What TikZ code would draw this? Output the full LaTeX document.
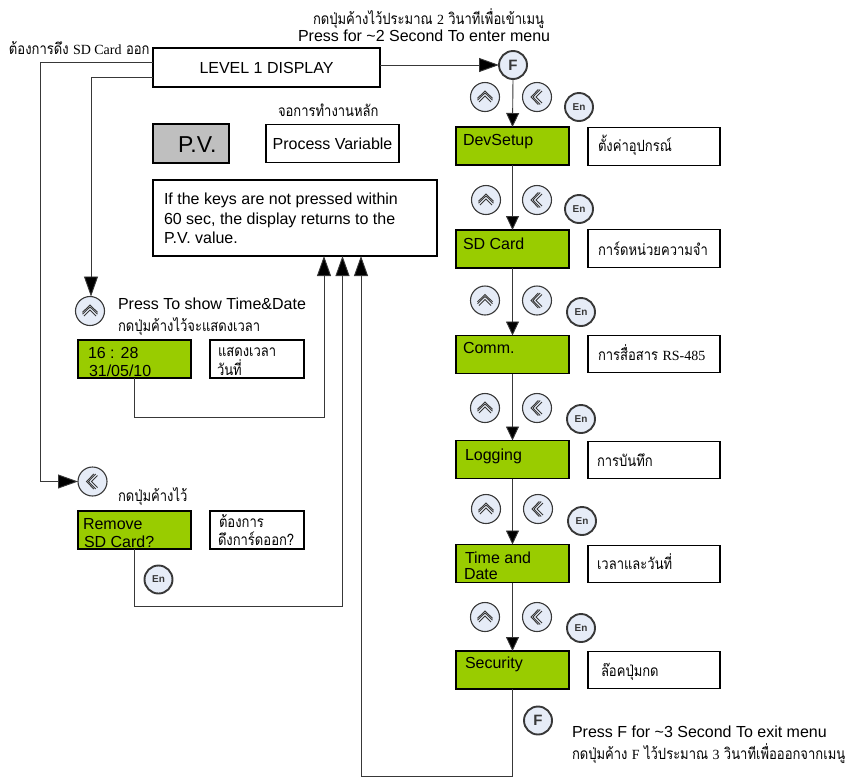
\documentclass[tikz,border=0pt]{standalone}
\usepackage{fontspec}
\usetikzlibrary{arrows.meta}
\setmainfont{Liberation Sans}
\newfontfamily\thaif[Script=Thai,FakeStretch=0.84]{Loma}
\newfontfamily\serf{Liberation Serif}
\definecolor{lcd}{HTML}{99CC00}
\definecolor{btnfill}{HTML}{E6ECF7}
\definecolor{ink}{HTML}{383838}
\newcommand{\entx}[1]{\fontsize{16}{19}\selectfont #1}
\newcommand{\thtx}[1]{\fontsize{15.5}{18}\selectfont\thaif #1}
\newcommand{\lttx}[1]{{\serf\fontsize{14}{16}\selectfont #1}}
\tikzset{
  x=1pt,y=-1pt,
  boxbase/.style={draw=black,line width=1.3pt,inner sep=0pt,outer sep=0pt},
  plainbox/.style={boxbase,fill=white},
  lcdbox/.style={boxbase,fill=lcd,minimum width=113,minimum height=38},
  notebox/.style={boxbase,fill=white,minimum width=132,minimum height=37.5},
  smallnote/.style={boxbase,fill=white,minimum width=94,minimum height=38},
  txt/.style={anchor=base west,inner sep=0pt,outer sep=0pt},
  btn/.style={circle,draw=ink,fill=btnfill,line width=1.1pt,minimum size=29,inner sep=0pt,outer sep=0pt},
  btnbold/.style={btn,line width=1.9pt,minimum size=28},
  chev/.style={draw=ink,line width=.9pt,line join=miter},
  wire/.style={draw=ink,line width=.9pt},
  tipdown/.style={-{Triangle[length=14,width=13,fill=black]}},
  tipbig/.style={-{Triangle[length=20,width=14,fill=black]}},
}
\newcommand{\upbtn}[2]{%
  \node[btn] (#1) at (#2) {};
  \draw[chev] ([shift={(-7.5,1.3)}]#1.center) -- ++(7.5,-7.3) -- ++(7.5,7.3);
  \draw[chev] ([shift={(-7.5,3.2)}]#1.center) -- ++(7.5,-7.3) -- ++(7.5,7.3);
  \draw[chev] ([shift={(-6,5)}]#1.center) -- ++(6,-6) -- ++(6,6);
}
\newcommand{\backbtn}[2]{%
  \node[btn] (#1) at (#2) {};
  \draw[chev] ([shift={(1.3,-7.5)}]#1.center) -- ++(-7.3,7.5) -- ++(7.3,7.5);
  \draw[chev] ([shift={(3.2,-7.5)}]#1.center) -- ++(-7.3,7.5) -- ++(7.3,7.5);
  \draw[chev] ([shift={(5,-6)}]#1.center) -- ++(-6,6) -- ++(6,6);
}
\newcommand{\enbtn}[2]{\node[btnbold,text=ink,font=\bfseries\fontsize{10}{12}\selectfont] (#1) at (#2) {En};}
\newcommand{\fbtn}[2]{\node[btnbold,text=ink,font=\bfseries\fontsize{15}{17}\selectfont] (#1) at (#2) {F};}
\begin{document}
\begin{tikzpicture}
\useasboundingbox (0,0) rectangle (852,777);

% top texts
\node[txt] (t1) at (313,24) {\thtx{กดปุ่มค้างไว้ประมาณ \lttx{2} วินาทีเพื่อเข้าเมนู}};
\node[txt] (t2) at (298,41) {\entx{Press for \textasciitilde2 Second To enter menu}};
\node[txt] (t3) at (9,54) {\thtx{ต้องการดึง \lttx{SD Card} ออก}};

% main column
\node[plainbox,minimum width=227,minimum height=39] (level) at (266.5,67.5) {\raisebox{-1.5pt}{\entx{LEVEL 1 DISPLAY}}};
\node[txt] (t4) at (278,116) {\thtx{จอการทำงานหลัก}};
\node[boxbase,fill=black!25,minimum width=76,minimum height=39] (pv) at (191,143.5) {};
\node[txt] (pvt) at (178,152) {\fontsize{23}{26}\selectfont P.V.};
\node[plainbox,minimum width=133,minimum height=38] (proc) at (332.5,143.5) {\raisebox{-2pt}{\entx{Process Variable}}};
\node[plainbox,minimum width=284,minimum height=76] (info) at (295,218) {};
\node[txt] (i1) at (164,204) {\entx{If the keys are not pressed within}};
\node[txt] (i2) at (164,224) {\entx{60 sec, the display returns to the}};
\node[txt] (i3) at (164,243) {\entx{P.V. value.}};

% time branch
\upbtn{upA}{90,311}
\node[txt] (t5) at (118,309.5) {\entx{Press To show Time\&Date}};
\node[txt] (t6) at (118,331) {\thtx{กดปุ่มค้างไว้จะแสดงเวลา}};
\node[lcdbox] (clock) at (134.5,359) {};
\node[txt] (c1) at (88,358) {\entx{16 : 28}};
\node[txt] (c2) at (89,376) {\entx{31/05/10}};
\node[smallnote] (clockn) at (257,359) {};
\node[txt] (c3) at (218,356.5) {\thtx{แสดงเวลา}};
\node[txt] (c4) at (217,375) {\thtx{วันที่}};

% remove branch
\backbtn{backA}{92.5,481.5}
\node[txt] (t7) at (118,501.5) {\thtx{กดปุ่มค้างไว้}};
\node[lcdbox] (remove) at (134.5,530) {};
\node[txt] (r1) at (83,529) {\entx{Remove}};
\node[txt] (r2) at (84,547) {\entx{SD Card?}};
\node[smallnote] (removen) at (257,530) {};
\node[txt] (r3) at (219,527) {\thtx{ต้องการ}};
\node[txt] (r4) at (218,545) {\thtx{ดึงการ์ดออก?}};
\enbtn{enA}{158.5,579.5}

% right column
\fbtn{fA}{513,65}
\upbtn{up1}{485,97} \backbtn{back1}{537,97} \enbtn{en1}{579,107}
\node[lcdbox] (dev) at (512.5,146) {};
\node[txt] (d1) at (463,145) {\entx{DevSetup}};
\node[notebox] (devn) at (654,146.5) {};
\node[txt] (d2) at (598,151) {\thtx{ตั้งค่าอุปกรณ์}};

\upbtn{up2}{486,200} \backbtn{back2}{537,200} \enbtn{en2}{579,209}
\node[lcdbox] (sd) at (512.5,249) {};
\node[txt] (s1) at (463,249) {\entx{SD Card}};
\node[notebox] (sdn) at (654,248.5) {};
\node[txt] (s2) at (598,255) {\thtx{การ์ดหน่วยความจำ}};

\upbtn{up3}{485,300.5} \backbtn{back3}{537,300.5} \enbtn{en3}{581,312}
\node[lcdbox] (comm) at (512.5,354.5) {};
\node[txt] (m1) at (463,353) {\entx{Comm.}};
\node[notebox] (commn) at (654,354) {};
\node[txt] (m2) at (598,360) {\thtx{การสื่อสาร \lttx{RS-485}}};

\upbtn{up4}{485,408} \backbtn{back4}{537,408} \enbtn{en4}{581,419}
\node[lcdbox] (log) at (512.5,459.5) {};
\node[txt] (l1) at (465,460) {\entx{Logging}};
\node[notebox] (logn) at (654,460) {};
\node[txt] (l2) at (597,466) {\thtx{การบันทึก}};

\upbtn{up5}{486,509} \backbtn{back5}{538,509} \enbtn{en5}{582,521}
\node[lcdbox] (time) at (512.5,563.5) {};
\node[txt] (p1) at (465,563) {\entx{Time and}};
\node[txt] (p2) at (464,579) {\entx{Date}};
\node[notebox] (timen) at (654,564) {};
\node[txt] (p3) at (597,569) {\thtx{เวลาและวันที่}};

\upbtn{up6}{485,617} \backbtn{back6}{537,617} \enbtn{en6}{581,628}
\node[lcdbox] (sec) at (512.5,670) {};
\node[txt] (e1) at (465,668) {\entx{Security}};
\node[notebox] (secn) at (654,670) {};
\node[txt] (e2) at (601,676) {\thtx{ล๊อคปุ่มกด}};

\fbtn{fB}{538,720.5}
\node[txt] (x1) at (572,737) {\entx{Press F for \textasciitilde3 Second To exit menu}};
\node[txt] (x2) at (572,759) {\thtx{กดปุ่มค้าง \lttx{F} ไว้ประมาณ \lttx{3} วินาทีเพื่อออกจากเมนู}};

% connectors
\coordinate (a) at (40,62);
\coordinate (b) at (91,77);
\coordinate (c) at (512.5,776);
\coordinate (ia) at (324,256);
\coordinate (ib) at (342.5,256);
\coordinate (ic) at (361,256);
\draw[wire] (level.west |- a) -- (a);
\draw[wire,tipbig] (a) |- (backA.west);
\draw[wire,tipbig] (level.west |- b) -- (b) -- (b |- upA.north);
\draw[wire,tipbig] (level.east |- fA) -- (fA.west);
\draw[wire,tipdown] (fA.south) -- (dev.north);
\draw[wire,tipdown] (dev.south) -- (sd.north);
\draw[wire,tipdown] (sd.south) -- (comm.north);
\draw[wire,tipdown] (comm.south) -- (log.north);
\draw[wire,tipdown] (log.south) -- (time.north);
\draw[wire,tipdown] (time.south) -- (sec.north);
\draw[wire,tipbig] (clock.south) |- (324,417) -- (ia |- info.south);
\draw[wire,tipbig] (remove.south) |- (342.5,606.5) -- (ib |- info.south);
\draw[wire,tipbig] (sec.south) -- (c) -- (361,776) -- (ic |- info.south);
\end{tikzpicture}
\end{document}
